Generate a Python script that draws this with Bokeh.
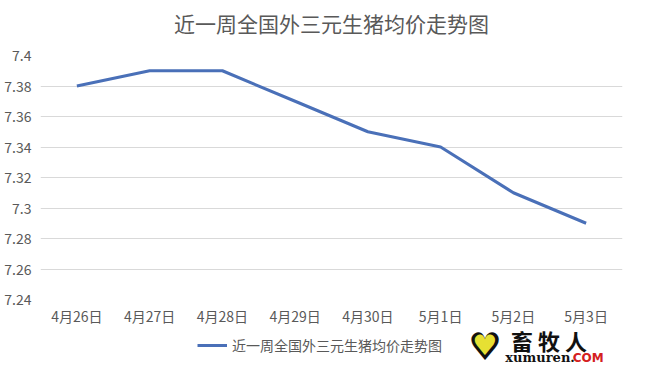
from bokeh.plotting import figure
from bokeh.layouts import column
from bokeh.models import FactorRange, Range1d, FixedTicker, Legend, LegendItem, ColumnDataSource
from bokeh.core.properties import value
from bokeh.embed import file_html
from bokeh.resources import INLINE

categories = ["4月26日", "4月27日", "4月28日", "4月29日", "4月30日", "5月1日", "5月2日", "5月3日"]
prices = [7.38, 7.39, 7.39, 7.37, 7.35, 7.34, 7.31, 7.29]
y_ticks = [7.24, 7.26, 7.28, 7.30, 7.32, 7.34, 7.36, 7.38, 7.40]
y_tick_labels = ["7.24", "7.26", "7.28", "7.3", "7.32", "7.34", "7.36", "7.38", "7.4"]
title_text = "近一周全国外三元生猪均价走势图"
series_name = "近一周全国外三元生猪均价走势图"
logo_name = "畜 牧 人"
logo_site = "xumuren."
logo_com = "COM"

FONT = "Noto Sans CJK SC"
GREY = "#595959"
BLUE = "#4a70b8"
W = 631


def blank(h):
    f = figure(width=W, height=h, x_range=Range1d(0, W), y_range=Range1d(0, h),
               output_backend="svg", toolbar_location=None, min_border=0)
    f.axis.visible = False
    f.grid.grid_line_color = None
    f.outline_line_color = None
    f.border_fill_color = "white"
    return f


# title strip
p0 = blank(43)
p0.text(x=[W / 2], y=[21], text=[title_text], text_font=value(FONT), text_font_size="21px",
        text_color=GREY, text_align="center", text_baseline="middle")

# main chart
p1 = figure(width=W, height=285, x_range=FactorRange(*categories),
            y_range=Range1d(7.24, 7.40), output_backend="svg", toolbar_location=None,
            min_border_left=40, min_border_right=9, min_border_top=12, min_border_bottom=29)
p1.outline_line_color = None
p1.background_fill_color = "white"
p1.border_fill_color = "white"

src = ColumnDataSource(dict(x=categories, y=prices))
p1.line("x", "y", source=src, line_color=BLUE, line_width=3)

p1.yaxis.ticker = FixedTicker(ticks=y_ticks)
p1.yaxis.major_label_overrides = {t: l for t, l in zip(y_ticks, y_tick_labels)}
for ax in (p1.xaxis[0], p1.yaxis[0]):
    ax.axis_line_color = None
    ax.major_tick_line_color = None
    ax.minor_tick_line_color = None
    ax.major_tick_out = 0
    ax.major_tick_in = 0
    ax.minor_tick_out = 0
    ax.major_label_text_font = FONT
    ax.major_label_text_font_size = "14px"
    ax.major_label_text_color = GREY
p1.xaxis.major_label_standoff = 6
p1.yaxis.major_label_standoff = 9

p1.xgrid.grid_line_color = None
p1.ygrid.grid_line_color = "#d9d9d9"

# legend + watermark strip
p2 = blank(36)
swatch = p2.line(x=[float("nan")], y=[float("nan")], line_color=BLUE, line_width=3)
legend = Legend(items=[LegendItem(label=series_name, renderers=[swatch])],
                location=(157, 9), orientation="horizontal",
                label_text_font=FONT, label_text_font_size="14px", label_text_color=GREY,
                border_line_color=None, background_fill_alpha=0, glyph_width=30,
                label_standoff=5, margin=0, padding=2)
p2.add_layout(legend)

p2.text(x=[482], y=[18], text=["♥"], text_font=value("DejaVu Sans"), text_font_size="38px",
        text_color="#111111", text_align="center", text_baseline="middle")
p2.text(x=[482], y=[19], text=["♥"], text_font=value("DejaVu Sans"), text_font_size="28px",
        text_color="#e6e033", text_align="center", text_baseline="middle")
p2.text(x=[510], y=[25], text=[logo_name], text_font=value(FONT), text_font_size="22px",
        text_font_style="bold", text_color="#111111", text_align="left", text_baseline="middle")
p2.text(x=[504], y=[7], text=[logo_site], text_font=value("DejaVu Serif"), text_font_size="13px",
        text_font_style="bold", text_color="#111111", text_align="left", text_baseline="middle")
p2.text(x=[577], y=[7], text=[logo_com], text_font=value("DejaVu Sans"), text_font_size="12px",
        text_font_style="bold", text_color="#d42020", text_align="left", text_baseline="middle")

p = column(p0, p1, p2, spacing=0)
open("out.html", "w").write(file_html(p, INLINE))
